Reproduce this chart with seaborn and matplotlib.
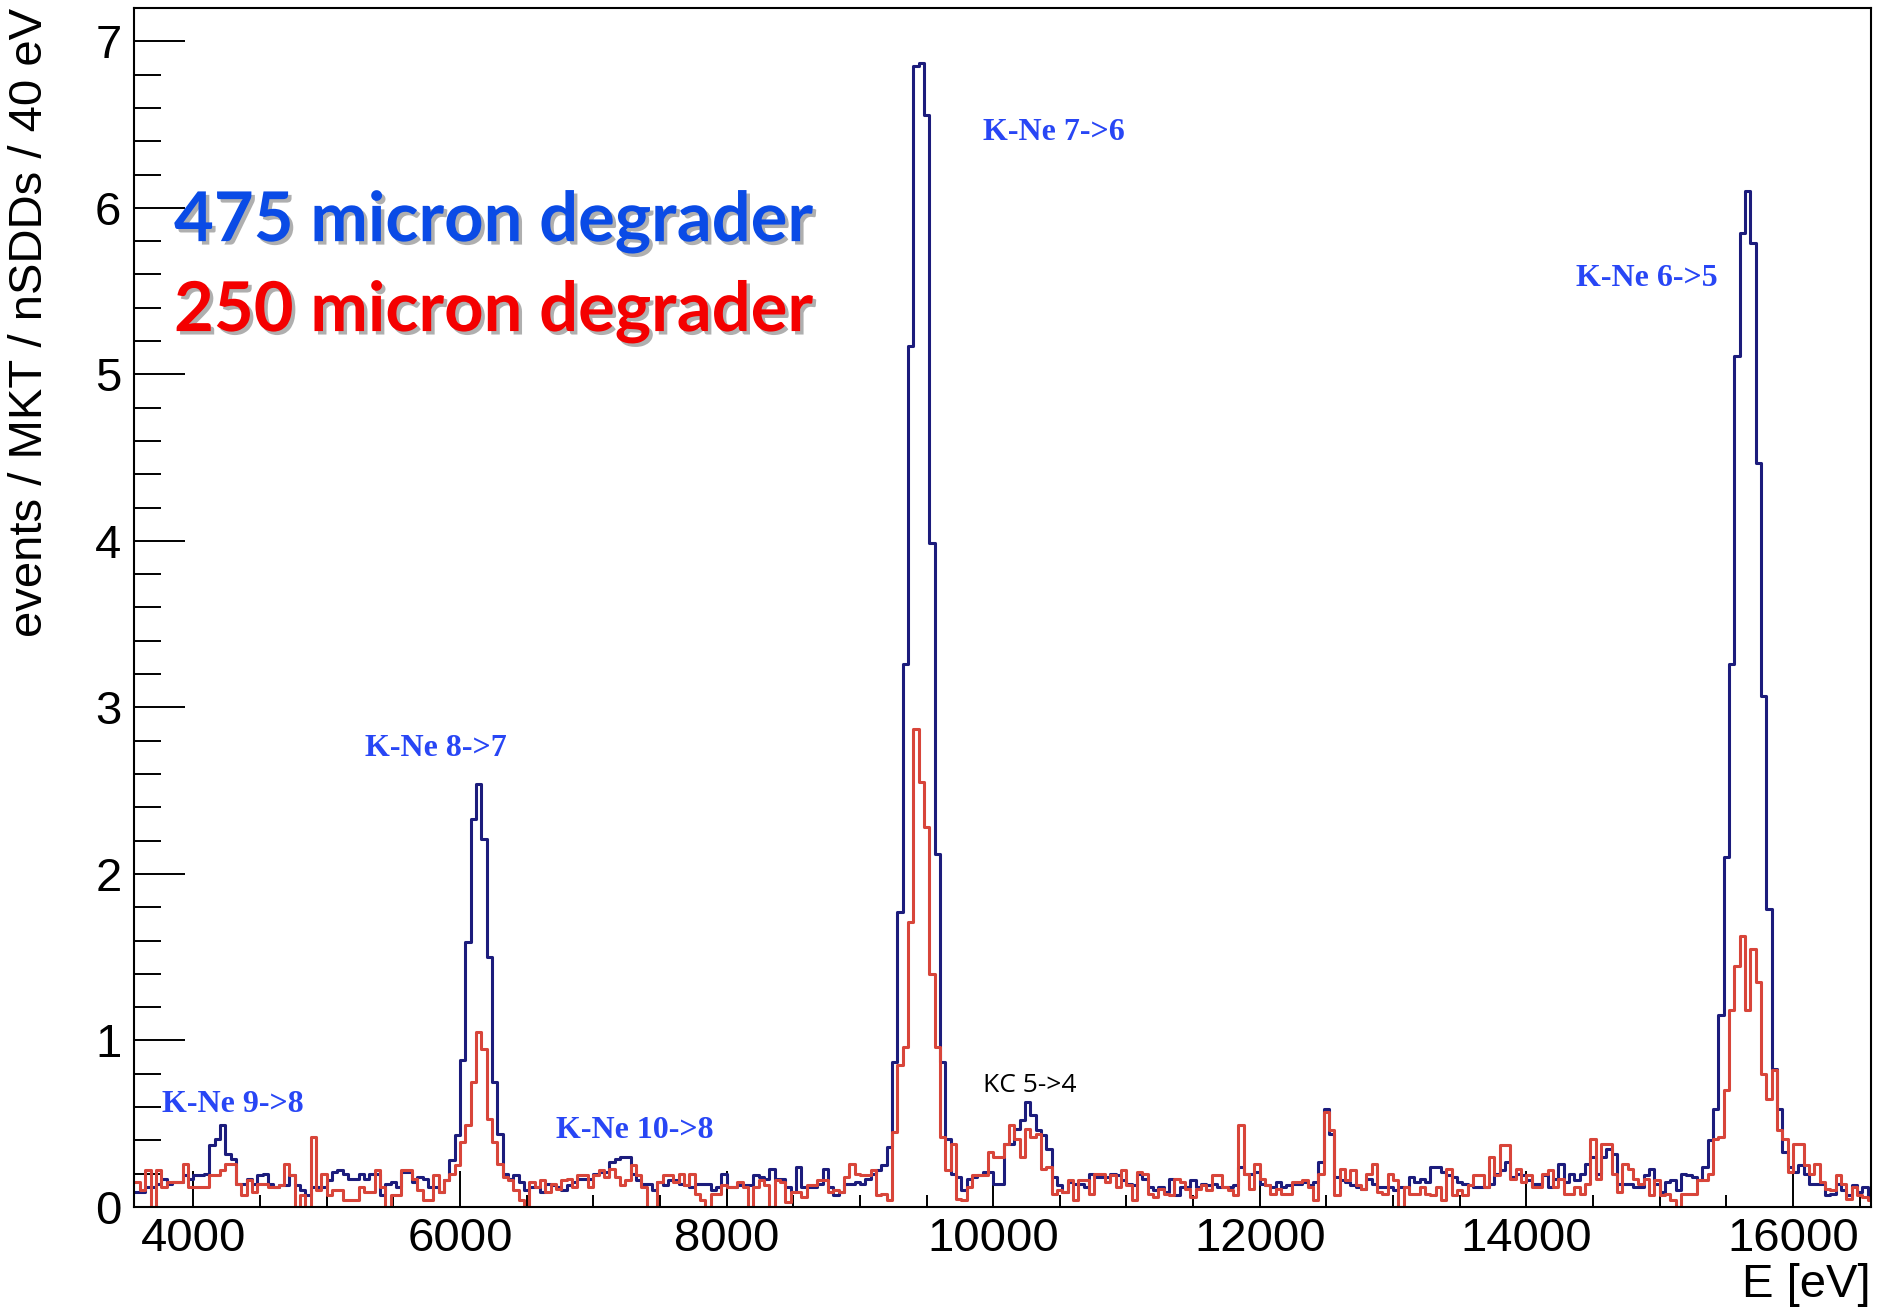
import numpy as np
import pandas as pd
import matplotlib
matplotlib.use("Agg")
import matplotlib.pyplot as plt
import matplotlib.patheffects as pe
from matplotlib.ticker import MultipleLocator
import seaborn as sns

# ---------------- data (events / MKT / nSDDs / 40 eV), 40 eV bins starting at 3520 eV
BIN_LO, BIN_HI, BIN_W = 3520, 16600, 40

blue_edge = [0.09]   # 3520
red_edge = [0.15]

# 3560 - 5800 eV
blue_a = [0.09, 0.09, 0.12, 0.12, 0.14, 0.17, 0.14, 0.15, 0.15, 0.19,
          0.17, 0.19, 0.19, 0.20, 0.37, 0.41, 0.49, 0.32, 0.29, 0.14,
          0.14, 0.17, 0.14, 0.19, 0.20, 0.14, 0.12, 0.13, 0.13, 0.19,
          0.13, 0.10, 0.07, 0.12, 0.12, 0.12, 0.16, 0.21, 0.22, 0.20,
          0.17, 0.17, 0.20, 0.17, 0.20, 0.20, 0.07, 0.14, 0.15, 0.12,
          0.21, 0.21, 0.15, 0.18, 0.17, 0.12]
red_a = [0.15, 0.10, 0.22, 0.00, 0.22, 0.12, 0.15, 0.15, 0.15, 0.26,
         0.12, 0.12, 0.12, 0.12, 0.19, 0.19, 0.22, 0.26, 0.26, 0.14,
         0.07, 0.16, 0.09, 0.14, 0.14, 0.12, 0.12, 0.13, 0.26, 0.19,
         0.00, 0.07, 0.00, 0.42, 0.10, 0.20, 0.07, 0.10, 0.10, 0.04,
         0.04, 0.04, 0.12, 0.09, 0.09, 0.22, 0.12, 0.00, 0.07, 0.07,
         0.22, 0.22, 0.17, 0.10, 0.04, 0.04]

# 5800 - 8000 eV
blue_b = [0.12, 0.09, 0.16, 0.28, 0.43, 0.88, 1.59, 2.33, 2.54, 2.21,
          1.50, 0.75, 0.44, 0.20, 0.17, 0.19, 0.15, 0.10, 0.12, 0.12,
          0.09, 0.14, 0.13, 0.12, 0.10, 0.13, 0.15, 0.17, 0.17, 0.17,
          0.20, 0.21, 0.21, 0.27, 0.29, 0.30, 0.30, 0.20, 0.16, 0.14,
          0.14, 0.10, 0.15, 0.13, 0.16, 0.16, 0.14, 0.13, 0.12, 0.14,
          0.14, 0.14, 0.10, 0.12, 0.20]
red_b = [0.19, 0.09, 0.16, 0.20, 0.25, 0.39, 0.49, 0.75, 1.05, 0.95,
         0.53, 0.39, 0.26, 0.18, 0.16, 0.10, 0.04, 0.00, 0.15, 0.12,
         0.16, 0.09, 0.14, 0.11, 0.16, 0.17, 0.12, 0.19, 0.19, 0.12,
         0.19, 0.22, 0.18, 0.23, 0.18, 0.13, 0.16, 0.25, 0.19, 0.12,
         0.00, 0.00, 0.15, 0.19, 0.19, 0.15, 0.20, 0.13, 0.20, 0.08,
         0.04, 0.00, 0.08, 0.08, 0.13]

# 8000 - 10240 eV
blue_c = [0.12, 0.12, 0.13, 0.13, 0.13, 0.19, 0.18, 0.17, 0.23, 0.17,
          0.17, 0.12, 0.09, 0.24, 0.12, 0.12, 0.12, 0.14, 0.23, 0.12,
          0.07, 0.09, 0.14, 0.14, 0.15, 0.14, 0.17, 0.20, 0.22, 0.25,
          0.36, 0.87, 1.77, 3.26, 5.17, 6.85, 6.87, 6.56, 3.99, 2.12,
          0.87, 0.41, 0.20, 0.18, 0.10, 0.17, 0.18, 0.19, 0.21, 0.21,
          0.14, 0.14, 0.38, 0.38, 0.47, 0.52]
red_c = [0.12, 0.12, 0.15, 0.12, 0.00, 0.12, 0.16, 0.13, 0.00, 0.16,
         0.15, 0.03, 0.09, 0.09, 0.06, 0.13, 0.13, 0.16, 0.16, 0.09,
         0.10, 0.09, 0.18, 0.26, 0.20, 0.19, 0.19, 0.22, 0.07, 0.08,
         0.04, 0.45, 0.85, 0.96, 1.71, 2.87, 2.55, 2.28, 1.40, 0.96,
         0.42, 0.22, 0.38, 0.05, 0.04, 0.12, 0.19, 0.19, 0.19, 0.33,
         0.30, 0.30, 0.38, 0.49, 0.41, 0.30]

# 10240 - 12440 eV
blue_d = [0.63, 0.55, 0.46, 0.43, 0.35, 0.18, 0.13, 0.09, 0.15, 0.14,
          0.14, 0.12, 0.20, 0.18, 0.18, 0.18, 0.20, 0.19, 0.16, 0.14,
          0.13, 0.20, 0.17, 0.12, 0.10, 0.12, 0.09, 0.17, 0.07, 0.12,
          0.12, 0.16, 0.12, 0.14, 0.13, 0.14, 0.12, 0.12, 0.12, 0.13,
          0.24, 0.20, 0.20, 0.21, 0.14, 0.13, 0.12, 0.15, 0.12, 0.13,
          0.14, 0.14, 0.15, 0.13, 0.15]
red_d = [0.47, 0.42, 0.44, 0.23, 0.24, 0.08, 0.10, 0.09, 0.16, 0.04,
         0.16, 0.16, 0.08, 0.20, 0.20, 0.15, 0.19, 0.12, 0.22, 0.13,
         0.04, 0.21, 0.20, 0.08, 0.06, 0.11, 0.08, 0.07, 0.17, 0.15,
         0.11, 0.06, 0.11, 0.13, 0.10, 0.19, 0.19, 0.12, 0.10, 0.07,
         0.49, 0.20, 0.11, 0.26, 0.17, 0.13, 0.08, 0.11, 0.08, 0.08,
         0.15, 0.15, 0.16, 0.12, 0.04]

# 12440 - 14680 eV
blue_e = [0.27, 0.59, 0.44, 0.18, 0.16, 0.15, 0.13, 0.12, 0.11, 0.17,
          0.14, 0.12, 0.12, 0.12, 0.10, 0.12, 0.12, 0.18, 0.15, 0.17,
          0.15, 0.24, 0.24, 0.21, 0.19, 0.18, 0.15, 0.14, 0.13, 0.12,
          0.12, 0.12, 0.14, 0.20, 0.22, 0.27, 0.18, 0.20, 0.19, 0.16,
          0.14, 0.14, 0.19, 0.12, 0.17, 0.26, 0.15, 0.20, 0.16, 0.20,
          0.26, 0.30, 0.20, 0.30, 0.35, 0.32]
red_e = [0.20, 0.57, 0.46, 0.07, 0.23, 0.16, 0.22, 0.13, 0.11, 0.20,
         0.26, 0.09, 0.08, 0.20, 0.16, 0.00, 0.12, 0.08, 0.08, 0.12,
         0.08, 0.07, 0.12, 0.04, 0.23, 0.07, 0.10, 0.07, 0.13, 0.19,
         0.19, 0.12, 0.30, 0.19, 0.37, 0.37, 0.17, 0.23, 0.15, 0.19,
         0.12, 0.12, 0.20, 0.22, 0.12, 0.17, 0.08, 0.08, 0.12, 0.08,
         0.14, 0.41, 0.17, 0.38, 0.38, 0.20]

# 14680 - 16600 eV
blue_f = [0.14, 0.14, 0.14, 0.12, 0.12, 0.19, 0.23, 0.14, 0.09, 0.15,
          0.16, 0.10, 0.20, 0.19, 0.18, 0.16, 0.24, 0.40, 0.59, 1.15,
          2.10, 3.26, 5.11, 5.85, 6.10, 5.79, 4.47, 3.07, 1.79, 0.83,
          0.59, 0.33, 0.24, 0.21, 0.25, 0.20, 0.14, 0.14, 0.14, 0.07,
          0.08, 0.14, 0.10, 0.07, 0.13, 0.09, 0.12, 0.05]
red_f = [0.09, 0.26, 0.23, 0.17, 0.14, 0.17, 0.07, 0.16, 0.07, 0.08,
         0.04, 0.00, 0.08, 0.08, 0.08, 0.16, 0.16, 0.20, 0.41, 0.42,
         0.70, 1.18, 1.45, 1.63, 1.18, 1.55, 1.35, 0.80, 0.65, 0.82,
         0.46, 0.41, 0.21, 0.38, 0.38, 0.25, 0.20, 0.26, 0.15, 0.11,
         0.10, 0.19, 0.14, 0.05, 0.12, 0.07, 0.06, 0.04]

x_major_ticks = [4000, 6000, 8000, 10000, 12000, 14000, 16000]
y_major_ticks = [0, 1, 2, 3, 4, 5, 6, 7]

peak_labels = ["K-Ne 9->8", "K-Ne 8->7", "K-Ne 10->8", "K-Ne 7->6", "K-Ne 6->5"]
peak_label_x = [3765, 5289, 6722, 9926, 14372]
peak_label_y = [0.57, 2.71, 0.414, 6.41, 5.53]

# ---------------- assemble
blue = np.array(blue_edge + blue_a + blue_b + blue_c + blue_d + blue_e + blue_f)
red = np.array(red_edge + red_a + red_b + red_c + red_d + red_e + red_f)
edges = [float(e) for e in np.arange(BIN_LO, BIN_HI + 1, BIN_W)]
centers = np.array(edges[:-1]) + BIN_W / 2
assert len(blue) == len(centers) == len(red)

df_blue = pd.DataFrame({"E": centers, "w": blue})
df_red = pd.DataFrame({"E": centers, "w": red})

sns.set_theme(style="ticks")
plt.rcParams["font.family"] = ["Liberation Sans", "DejaVu Sans"]
plt.rcParams["text.color"] = "black"
plt.rcParams["axes.labelcolor"] = "black"

fig = plt.figure(figsize=(18.77, 13.16), dpi=100)
ax = fig.add_axes([0.07139, 0.08283, 0.92541, 0.91109])

sns.histplot(data=df_blue, x="E", weights="w", bins=edges, element="step",
             fill=False, color="#1c1c7c", linewidth=2.2, ax=ax)
sns.histplot(data=df_red, x="E", weights="w", bins=edges, element="step",
             fill=False, color="#d8453a", linewidth=2.2, ax=ax)

ax.set_xlim(3555, 16585)
ax.set_ylim(0, 7.2)

ax.xaxis.set_major_locator(MultipleLocator(2000))
ax.xaxis.set_minor_locator(MultipleLocator(500))
ax.yaxis.set_major_locator(MultipleLocator(1))
ax.yaxis.set_minor_locator(MultipleLocator(0.2))
ax.set_xticks(x_major_ticks)
ax.set_yticks(y_major_ticks)

ax.tick_params(axis="x", which="major", direction="in", length=26, width=1.4,
               labelsize=34, pad=7, colors="black")
ax.tick_params(axis="x", which="minor", direction="in", length=8.6, width=1.4,
               colors="black")
ax.tick_params(axis="y", which="major", direction="in", length=37, width=1.4,
               labelsize=34, pad=9, colors="black")
ax.tick_params(axis="y", which="minor", direction="in", length=19.4, width=1.4,
               colors="black")
ax.tick_params(top=False, right=False, which="both")

for s in ax.spines.values():
    s.set_linewidth(1.5)
    s.set_color("black")
    s.set_visible(True)

ax.set_xlabel("E [eV]", fontsize=34, loc="right", color="black")
ax.xaxis.set_label_coords(1.0, -0.047)
ax.set_ylabel("events / MKT / nSDDs / 40 eV", fontsize=34, loc="top", color="black")
ax.yaxis.set_label_coords(-0.047, 1.0)

# peak labels
for lab, lx, ly in zip(peak_labels, peak_label_x, peak_label_y):
    ax.text(lx, ly, lab, color="#2846f5", fontsize=23, fontweight="bold",
            family=["Liberation Serif", "DejaVu Serif"], ha="left", va="baseline")
ax.text(9926, 0.689, "KC 5->4", color="black", fontsize=19,
        family=["Open Sans", "DejaVu Sans"], ha="left", va="baseline")

shadow = [pe.SimplePatchShadow(offset=(2.5, -2.5), shadow_rgbFace="#7a7a7a", alpha=0.6),
          pe.Normal()]
ax.text(3855, 5.80, "475 micron degrader", color="#0a4be6", fontsize=49.5,
        fontweight="bold", family=["Lato", "DejaVu Sans"], ha="left",
        va="baseline", path_effects=shadow)
ax.text(3855, 5.26, "250 micron degrader", color="#f40000", fontsize=49.5,
        fontweight="bold", family=["Lato", "DejaVu Sans"], ha="left",
        va="baseline", path_effects=shadow)

fig.savefig("out.png", dpi=100)
